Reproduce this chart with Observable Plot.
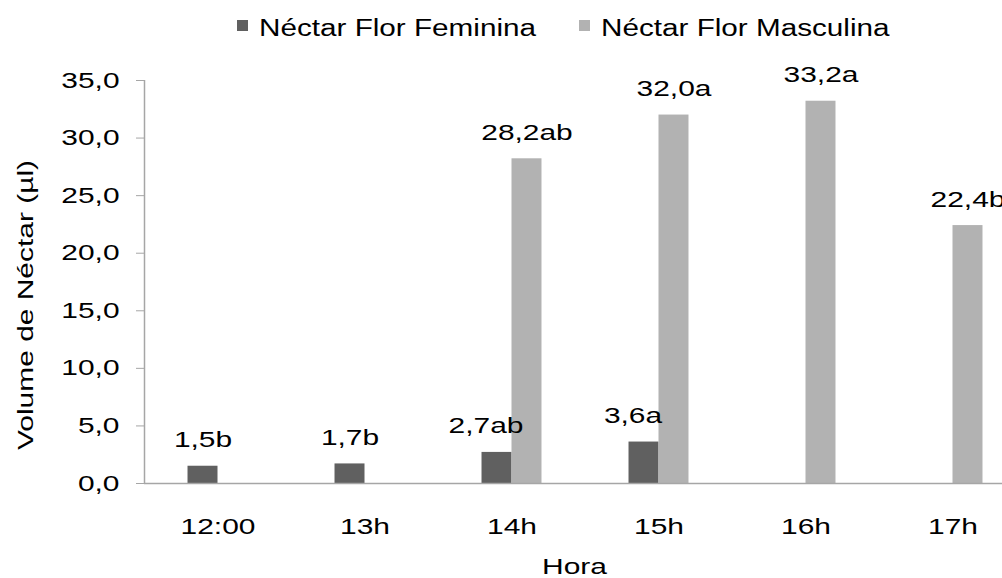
<!DOCTYPE html>
<html><head><meta charset="utf-8">
<script src="https://cdn.jsdelivr.net/npm/d3@7"></script>
<script src="https://cdn.jsdelivr.net/npm/@observablehq/plot@0.6"></script>
<style>
body{margin:0;background:#fff;overflow:hidden;font-family:"Liberation Sans",Arial,sans-serif;color:#000;}
#legend{position:relative;height:50px;width:1002px;}
.sw{position:absolute;width:11px;height:11px;}
.lt{position:absolute;font-size:23px;line-height:1;white-space:nowrap;transform-origin:0 50%;transform:scaleX(1.29);}
</style></head><body>
<div id="legend"></div>
<div id="chart"></div>
<script>
const categories = ["12:00", "13h", "14h", "15h", "16h", "17h"];
const series = ["Néctar Flor Feminina", "Néctar Flor Masculina"];
const feminina = [1.5, 1.7, 2.7, 3.6, null, null];
const masculina = [null, null, 28.2, 32.0, 33.2, 22.4];
const labelsFem = ["1,5b", "1,7b", "2,7ab", "3,6a", null, null];
const labelsMasc = [null, null, "28,2ab", "32,0a", "33,2a", "22,4b"];
const yTicks = [0, 5, 10, 15, 20, 25, 30, 35];
const colors = ["#606060", "#b2b2b2"];
const yLabel = "Volume de Néctar (µl)";
const xLabel = "Hora";

const BW = 0.204; // bar width as a fraction of one category
const STRETCH = 1.36;

const rows = [];
categories.forEach((c, i) => {
  if (feminina[i] != null) rows.push({i, s: 0, v: feminina[i], label: labelsFem[i], pair: masculina[i] != null});
  if (masculina[i] != null) rows.push({i, s: 1, v: masculina[i], label: labelsMasc[i], pair: feminina[i] != null});
});

// legend
const legend = document.getElementById("legend");
const legPos = [{sw: 237, tx: 259}, {sw: 579, tx: 601}];
series.forEach((s, k) => {
  const sw = document.createElement("div");
  sw.className = "sw";
  sw.style.left = legPos[k].sw + "px";
  sw.style.top = "20px";
  sw.style.background = colors[k];
  legend.appendChild(sw);
  const t = document.createElement("span");
  t.className = "lt";
  t.style.left = legPos[k].tx + "px";
  t.style.top = "17px";
  t.textContent = s;
  legend.appendChild(t);
});

const axisGray = "#a6a6a6";
const chart = Plot.plot({
  width: 1002,
  height: 528,
  marginTop: 30,
  marginBottom: 95,
  marginLeft: 144,
  marginRight: -24,
  style: {fontFamily: "Liberation Sans, Arial, sans-serif", fontSize: "22px", color: "#000", background: "#fff"},
  x: {type: "linear", domain: [-0.5, categories.length - 0.5], axis: null},
  y: {domain: [0, 35], axis: null},
  marks: [
    Plot.rectY(rows, {x1: d => d.i + (d.s === 0 ? -BW : 0), x2: d => d.i + (d.s === 0 ? 0 : BW), y: "v", fill: d => colors[d.s]}),
    Plot.ruleY([0], {stroke: axisGray, strokeWidth: 1.5}),
    Plot.ruleX([-0.5], {y1: 0, y2: 35, stroke: axisGray, strokeWidth: 1.5}),
    Plot.axisY(yTicks, {tickSize: 8, tickPadding: 17, stroke: axisGray, fill: "#000", fontSize: 22, label: null, tickFormat: d => d.toFixed(1).replace(".", ",")}),
    Plot.axisX(d3.range(categories.length), {tickSize: 0, tickPadding: 35, fill: "#000", fontSize: 22, label: null, tickFormat: i => categories[i]}),
    Plot.text(rows.filter(d => !(d.s === 0 && d.pair)), {x: d => d.i + (d.s === 0 ? -BW / 2 : BW / 2), y: "v", text: "label", dy: -26, fontSize: 22, fill: "#000"}),
    Plot.text(rows.filter(d => d.s === 0 && d.pair), {x: d => d.i - BW / 2, y: "v", text: "label", dy: -26, dx: -11, fontSize: 22, fill: "#000"}),
    Plot.text([yLabel], {frameAnchor: "left", textAnchor: "middle", lineAnchor: "middle", rotate: -90, dx: -119, dy: 23, fontSize: 22, fill: "#000"}),
    Plot.text([xLabel], {frameAnchor: "bottom", textAnchor: "middle", dx: -11, dy: 90, fontSize: 22, fill: "#000"})
  ]
});
document.getElementById("chart").appendChild(chart);

// widen the glyphs like the reference's wide font rendering
chart.querySelectorAll("text").forEach(el => {
  const spans = el.querySelectorAll("tspan");
  const targets = spans.length ? Array.from(spans) : [el];
  targets.forEach(t => {
    const L = t.getComputedTextLength();
    if (L > 0) {
      t.setAttribute("textLength", (L * STRETCH).toFixed(1));
      t.setAttribute("lengthAdjust", "spacingAndGlyphs");
    }
  });
});
</script>
</body></html>
